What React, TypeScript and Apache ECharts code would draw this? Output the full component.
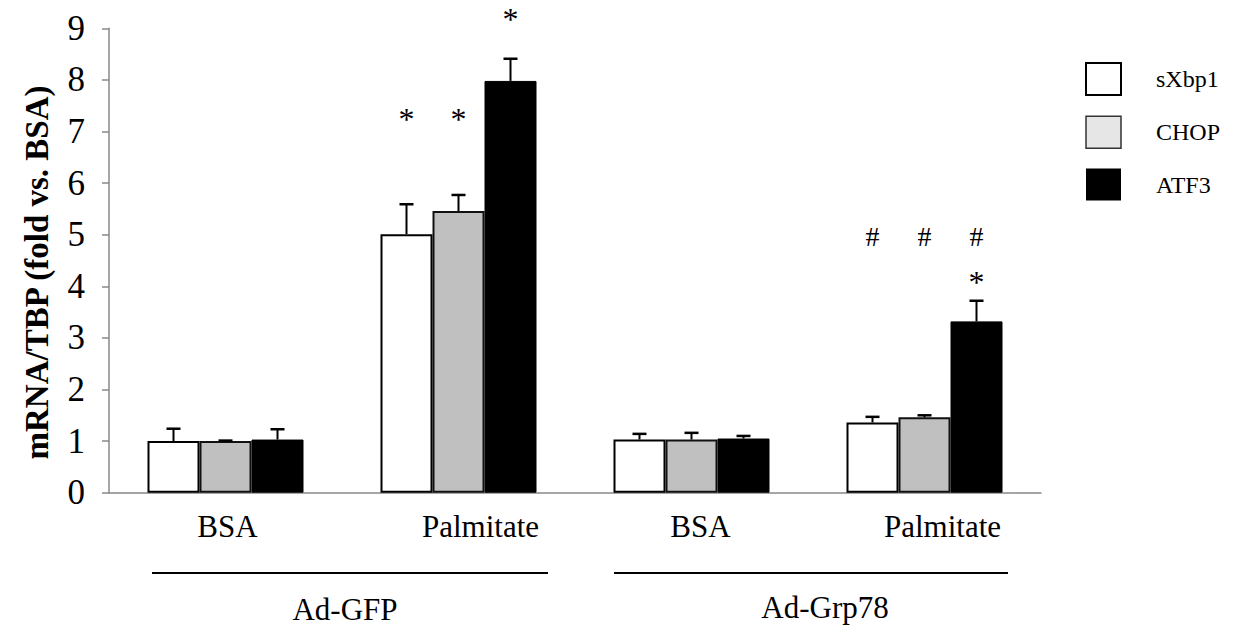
import React, { useEffect, useRef } from "react";
import * as echarts from "echarts";

const categories = ["BSA", "Palmitate", "BSA", "Palmitate"];
const groupLabels = ["Ad-GFP", "Ad-Grp78"];
const seriesNames = ["sXbp1", "CHOP", "ATF3"];
const sXbp1 = [1.0, 5.01, 1.03, 1.36];
const sXbp1Err = [0.24, 0.58, 0.11, 0.11];
const chop = [1.0, 5.46, 1.03, 1.46];
const chopErr = [0.01, 0.31, 0.13, 0.04];
const atf3 = [1.03, 7.98, 1.05, 3.32];
const atf3Err = [0.2, 0.43, 0.05, 0.4];
const yTickMax = 9;
const yTickStep = 1;
// significance marks: series index, category index, symbol, level (data units)
const marks = [
  { s: 0, c: 1, text: "*", at: 7.24 },
  { s: 1, c: 1, text: "*", at: 7.24 },
  { s: 2, c: 1, text: "*", at: 9.18 },
  { s: 0, c: 3, text: "#", at: 4.97 },
  { s: 1, c: 3, text: "#", at: 4.97 },
  { s: 2, c: 3, text: "#", at: 4.97 },
  { s: 2, c: 3, text: "*", at: 4.09 },
];

const FONT = "Liberation Serif";
const BAR_W = 52;

export default function App() {
  const ref = useRef<HTMLDivElement>(null);
  useEffect(() => {
    if (!ref.current) return;
    const chart = echarts.init(ref.current, null, { renderer: "svg" });
    const values = [sXbp1, chop, atf3];
    const errs = [sXbp1Err, chopErr, atf3Err];
    const errData: number[][] = [];
    values.forEach((arr, s) =>
      arr.forEach((v, c) => errData.push([c, v, errs[s][c], s]))
    );
    const labelPad = [4, 44, 18, 36];
    const rich: any = {};
    labelPad.forEach((p, i) => {
      rich["c" + i] = {
        fontFamily: FONT,
        fontSize: 31,
        color: "#000",
        padding: [0, 0, 0, p],
      };
    });
    const option: any = {
      animation: false,
      backgroundColor: "#fff",
      textStyle: { fontFamily: FONT },
      grid: { left: 109, right: 201, top: 28.3, bottom: 142.3 },
      legend: {
        orient: "vertical",
        left: 1085,
        top: 62,
        padding: 0,
        itemWidth: 35,
        itemHeight: 32,
        itemGap: 19.5,
        icon: "rect",
        selectedMode: false,
        textStyle: {
          fontFamily: FONT,
          fontSize: 24,
          color: "#000",
          padding: [0, 0, 0, 30],
        },
        data: [
          {
            name: "sXbp1",
            itemStyle: { color: "#fff", borderColor: "#000", borderWidth: 2 },
          },
          {
            name: "CHOP",
            itemStyle: { color: "#e6e6e6", borderColor: "#333", borderWidth: 1.5 },
          },
          { name: "ATF3", itemStyle: { color: "#000", borderWidth: 0 } },
        ],
      },
      xAxis: {
        type: "category",
        data: categories,
        axisLine: { show: true, lineStyle: { color: "#888", width: 1.5 } },
        axisTick: { show: false },
        axisLabel: {
          interval: 0,
          hideOverlap: false,
          margin: 18,
          fontFamily: FONT,
          fontSize: 31,
          formatter: (v: string, i: number) => `{c${i}|${v}}`,
          rich,
        },
      },
      yAxis: {
        type: "value",
        min: 0,
        max: yTickMax,
        interval: yTickStep,
        name: "mRNA/TBP (fold vs. BSA)",
        nameLocation: "middle",
        nameGap: 56,
        nameTextStyle: {
          fontFamily: FONT,
          fontSize: 33,
          fontWeight: "bold",
          color: "#000",
          padding: [0, 24, 0, 0],
        },
        axisLine: { show: true, lineStyle: { color: "#888", width: 1.5 } },
        axisTick: { show: true, length: 7, lineStyle: { color: "#888", width: 1.5 } },
        axisLabel: { fontFamily: FONT, fontSize: 35, color: "#000", margin: 24 },
        splitLine: { show: false },
      },
      graphic: [
        { type: "line", shape: { x1: 152, y1: 573, x2: 548, y2: 573 }, style: { stroke: "#000", lineWidth: 2 } },
        { type: "line", shape: { x1: 614, y1: 573, x2: 1008, y2: 573 }, style: { stroke: "#000", lineWidth: 2 } },
        {
          type: "text",
          x: 345,
          y: 609,
          style: { text: groupLabels[0], fontFamily: FONT, fontSize: 31, fill: "#000", align: "center", verticalAlign: "middle" },
        },
        {
          type: "text",
          x: 825,
          y: 607,
          style: { text: groupLabels[1], fontFamily: FONT, fontSize: 31, fill: "#000", align: "center", verticalAlign: "middle" },
        },
      ],
      series: [
        {
          name: seriesNames[0],
          type: "bar",
          data: sXbp1,
          barWidth: BAR_W,
          barGap: "0%",
          itemStyle: { color: "#fff", borderColor: "#000", borderWidth: 2 },
        },
        {
          name: seriesNames[1],
          type: "bar",
          data: chop,
          barWidth: BAR_W,
          barGap: "0%",
          itemStyle: { color: "#c0c0c0", borderColor: "#111", borderWidth: 2 },
        },
        {
          name: seriesNames[2],
          type: "bar",
          data: atf3,
          barWidth: BAR_W,
          barGap: "0%",
          itemStyle: { color: "#000", borderColor: "#000", borderWidth: 1 },
        },
        {
          name: "errors",
          type: "custom",
          coordinateSystem: "cartesian2d",
          silent: true,
          clip: false,
          z: 5,
          encode: { x: 0, y: 1 },
          data: errData,
          renderItem: (params: any, api: any) => {
            const c = api.value(0);
            const v = api.value(1);
            const e = api.value(2);
            const s = api.value(3);
            const base = api.coord([c, v]);
            const top = api.coord([c, v + e]);
            const x = base[0] + (s - 1) * BAR_W;
            return {
              type: "group",
              children: [
                { type: "line", shape: { x1: x, y1: base[1], x2: x, y2: top[1] }, style: { stroke: "#000", lineWidth: 2 } },
                { type: "line", shape: { x1: x - 7, y1: top[1], x2: x + 7, y2: top[1] }, style: { stroke: "#000", lineWidth: 2.5 } },
              ],
            };
          },
        },
        {
          name: "marks",
          type: "custom",
          coordinateSystem: "cartesian2d",
          silent: true,
          clip: false,
          z: 6,
          encode: { x: 0, y: 1 },
          data: marks.map((m) => [m.c, m.at, m.s]),
          renderItem: (params: any, api: any) => {
            const m = marks[params.dataIndex];
            const p = api.coord([api.value(0), api.value(1)]);
            const x = p[0] + (api.value(2) - 1) * BAR_W;
            return {
              type: "text",
              x,
              y: p[1],
              style: {
                text: m.text,
                fontFamily: FONT,
                fontSize: m.text === "*" ? 32 : 28,
                fill: "#000",
                align: "center",
                verticalAlign: "middle",
              },
            };
          },
        },
      ],
    };
    chart.setOption(option);
    return () => chart.dispose();
  }, []);
  return (
    <div
      ref={ref}
      style={{ position: "absolute", left: 0, top: 0, width: 1242, height: 635 }}
    />
  );
}
